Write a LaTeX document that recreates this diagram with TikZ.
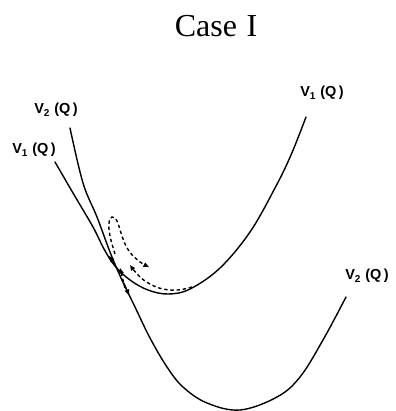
\documentclass[tikz,border=0pt]{standalone}
\usepackage{fontspec}
\newfontfamily\lblfont{Liberation Sans}
\newfontfamily\titlefont{Liberation Serif}
\usetikzlibrary{arrows.meta}
\newcommand{\lblsub}[1]{\raisebox{-0.35ex}{\fontsize{10}{10}\selectfont #1}}
\tikzset{
  curve/.style={line width=1.4pt, line cap=round, line join=round},
  dpath/.style={line width=1.4pt, dash pattern=on 3.4pt off 2.8pt, line cap=butt},
  lbl/.style={font=\lblfont\bfseries\fontsize{14.5}{15}\selectfont, inner sep=0pt},
  tip/.style={-{Triangle[length=5.5pt,width=4.5pt]}},
}
\begin{document}
\begin{tikzpicture}[x=1pt,y=-1pt]
\useasboundingbox (0,0) rectangle (395,411);
\node[font=\titlefont\fontsize{32}{34}\selectfont, anchor=base, inner sep=0pt] (title) at (216,37) {Case\hspace{0.3em}I};

% labels
\node[lbl] (v2a) at (56,110) {V\lblsub{2}\,\,(Q\,)};
\node[lbl] (v1a) at (34,150) {V\lblsub{1}\,\,(Q\,)};
\node[lbl] (v1b) at (322,93) {V\lblsub{1}\,\,(Q\,)};
\node[lbl] (v2b) at (367,276) {V\lblsub{2}\,\,(Q\,)};

% V1 curve: left arm -> upper parabola
\draw[curve] plot[smooth, tension=0.6] coordinates {
  (55,162) (73,193) (93,227) (104,249) (115,266) (130,280) (148,290)
  (168,294) (190,289) (220,268) (250,232) (275,188) (291,155) (306,117)};
% V2 curve: left arm -> lower parabola
\draw[curve] plot[smooth, tension=0.6] coordinates {
  (70,128) (83,183) (97,217) (110,252) (121,278) (135,307) (150,338)
  (167,367) (183,387) (207,403) (240,410) (277,397) (300,377) (323,340) (346,297)};

% dashed loop
\draw[dpath, tip] plot[smooth, tension=0.7] coordinates {
  (115,254) (110,236) (109,223) (112,217) (117,221) (121,233) (126,246) (133,256) (140,262) (149,267)};
% dashed path under upper parabola
\draw[dpath, tip] plot[smooth, tension=0.7] coordinates {
  (192,287) (178,290) (163,289) (150,284) (139,276) (130,265)};
% short dashed upward
\draw[dpath, tip] (125,288) -- (120,268);
% arrow marks on solid line
\draw[tip, line width=1pt] (124,283) -- (129,295);
\draw[tip, line width=1pt] (115,264) -- (109,256);
\end{tikzpicture}
\end{document}
